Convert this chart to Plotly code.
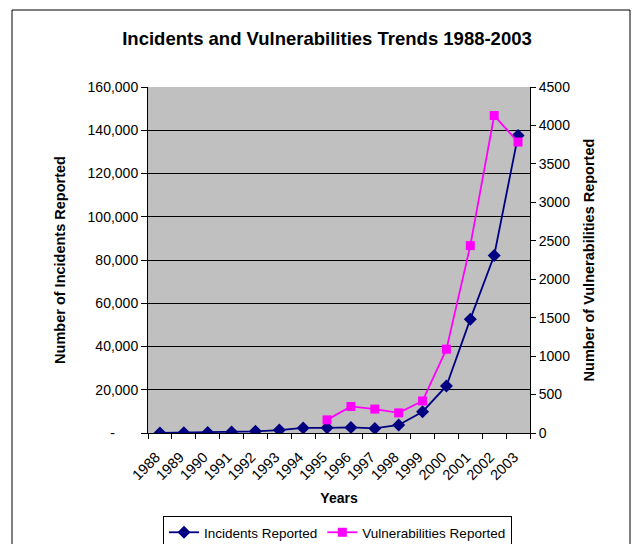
import plotly.graph_objects as go

years = [str(y) for y in range(1988, 2004)]
incidents = [6, 132, 252, 406, 773, 1334, 2340, 2412, 2573, 2134, 3734, 9859, 21756, 52658, 82094, 137529]
vulnerabilities = [None, None, None, None, None, None, None, 171, 345, 311, 262, 417, 1090, 2437, 4129, 3784]

y1_ticks = [0, 20000, 40000, 60000, 80000, 100000, 120000, 140000, 160000]
y1_text = ["-\u00a0\u00a0\u00a0\u00a0\u00a0\u00a0"] + [f"{v:,}" for v in y1_ticks[1:]]
y2_ticks = list(range(0, 4501, 500))

W, H = 641, 544
L, R, T, B = 148, 530, 87, 433
pw, ph = R - L, B - T

def px(x):
    return (x - L) / pw

def py(y):
    return (B - y) / ph

font = "Liberation Sans, Arial, sans-serif"

fig = go.Figure()
fig.add_trace(go.Scatter(
    x=years, y=incidents, name="Incidents Reported", mode="lines+markers",
    line=dict(color="#000080", width=1.8),
    marker=dict(symbol="diamond", size=10, color="#000080"),
))
fig.add_trace(go.Scatter(
    x=years, y=vulnerabilities, name="Vulnerabilities Reported", mode="lines+markers",
    line=dict(color="#FF00FF", width=1.8),
    marker=dict(symbol="square", size=9, color="#FF00FF"),
    yaxis="y2", connectgaps=False,
))

fig.update_layout(
    width=W, height=H,
    margin=dict(l=L, r=W - R, t=T, b=H - B, autoexpand=False),
    paper_bgcolor="white", plot_bgcolor="#C0C0C0",
    font=dict(family=font, size=14, color="black"),
    title=dict(text="<b>Incidents and Vulnerabilities Trends 1988-2003</b>",
               x=px(327), xref="paper", xanchor="center",
               y=1 - 39 / H, yanchor="middle", yref="container",
               font=dict(size=18.5, family=font)),
    xaxis=dict(
        type="category", range=[-0.5, 15.5], tickangle=-45, tickson="boundaries",
        ticks="outside", ticklen=5, tickcolor="black",
        ticklabelstandoff=9, ticklabelshift=-4,
        showline=True, linecolor="black", linewidth=1, mirror=False,
        showgrid=False, zeroline=False,
        title=dict(text="<b>Years</b>", standoff=10, font=dict(size=14)),
        tickfont=dict(size=14.5),
    ),
    yaxis=dict(
        range=[0, 160000], tickvals=y1_ticks, ticktext=y1_text,
        ticks="outside", ticklen=6, tickcolor="black",
        showline=True, linecolor="black", linewidth=1,
        showgrid=True, gridcolor="black", gridwidth=1, zeroline=False,
        title=dict(text="<b>Number of Incidents Reported</b>", standoff=18, font=dict(size=14.5)),
        tickfont=dict(size=14),
    ),
    yaxis2=dict(
        range=[0, 4500], tickvals=y2_ticks, overlaying="y", side="right",
        ticks="outside", ticklen=5, tickcolor="black",
        showline=True, linecolor="black", linewidth=1,
        showgrid=False, zeroline=False,
        title=dict(text="<b>Number of Vulnerabilities Reported</b>", standoff=14, font=dict(size=14.5)),
        tickfont=dict(size=14),
    ),
    legend=dict(
        orientation="h", x=px(337.5), xanchor="center", y=py(516), yanchor="top",
        bordercolor="black", borderwidth=1, bgcolor="white",
        font=dict(size=13.5), itemwidth=30, tracegroupgap=0,
    ),
    showlegend=True,
)

fig.add_shape(type="rect", xref="paper", yref="paper",
              x0=px(12), x1=px(630), y0=py(560), y1=py(10),
              line=dict(color="black", width=1), fillcolor="rgba(0,0,0,0)", layer="below")

fig.write_html("out.html")
